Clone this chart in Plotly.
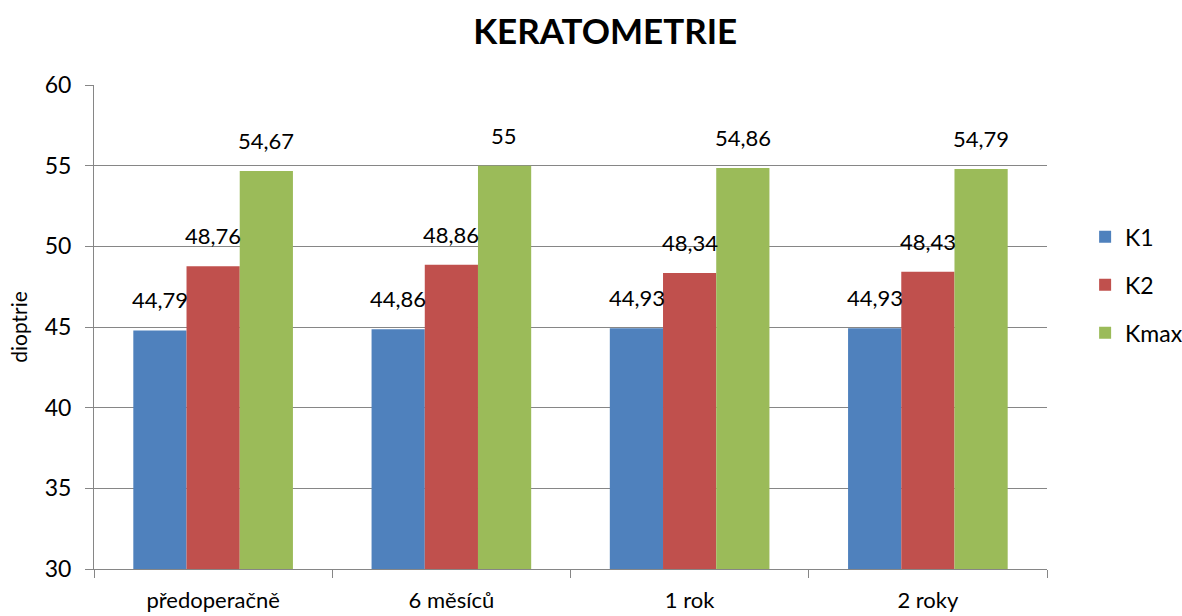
import plotly.graph_objects as go

categories = ["předoperačně", "6 měsíců", "1 rok", "2 roky"]
series_names = ["K1", "K2", "Kmax"]
k1 = [44.79, 44.86, 44.93, 44.93]
k2 = [48.76, 48.86, 48.34, 48.43]
kmax = [54.67, 55, 54.86, 54.79]
colors = ["#4F81BD", "#C0504D", "#9BBB59"]
y_ticks = [30, 35, 40, 45, 50, 55, 60]

FONT = "Lato"
all_values = [k1, k2, kmax]


def fmt(v):
    s = ("%.2f" % v).rstrip("0").rstrip(".")
    return s.replace(".", ",")


fig = go.Figure()
for name, vals, col in zip(series_names, all_values, colors):
    fig.add_trace(go.Bar(
        name=name, x=categories, y=vals, marker_color=col,
        marker_line_width=0, legendgroup=name,
    ))

# value labels above each bar, offset per series within the group
bar_offsets = [-53, 0, 53]
for vals, dx in zip(all_values, bar_offsets):
    for cat, v in zip(categories, vals):
        fig.add_annotation(
            x=cat, y=v, text=fmt(v), showarrow=False,
            xshift=dx, yshift=15, yanchor="bottom",
            font=dict(family=FONT, size=22, color="#000000"),
        )

fig.update_layout(
    width=1182, height=616,
    margin=dict(l=94, r=135, t=85, b=47, autoexpand=False),
    paper_bgcolor="white", plot_bgcolor="white",
    barmode="group", bargap=0.33, bargroupgap=0,
    title=dict(text="<b>KERATOMETRIE</b>", x=0.512, xanchor="center",
               y=0.948, yanchor="middle", xref="container", yref="container",
               font=dict(family=FONT, size=35, color="#000000")),
    font=dict(family=FONT, color="#000000"),
    legend=dict(x=1.04, xanchor="left", y=0.587, yanchor="middle",
                font=dict(family=FONT, size=23), tracegroupgap=15,
                traceorder="grouped", itemwidth=30),
    showlegend=True,
)
fig.update_xaxes(
    showline=True, linecolor="#868686", linewidth=1,
    ticks="outside", tickson="boundaries", ticklen=8, tickcolor="#868686",
    tickfont=dict(family=FONT, size=22), showgrid=False,
    ticklabelstandoff=12,
)
fig.update_yaxes(
    range=[30, 60], tickvals=y_ticks, showline=True, linecolor="#868686",
    linewidth=1, ticks="outside", ticklen=8, tickcolor="#868686",
    showgrid=True, gridcolor="#868686", gridwidth=1,
    tickfont=dict(family=FONT, size=23), zeroline=False,
    ticklabelstandoff=9,
    title=dict(text="dioptrie", font=dict(family=FONT, size=21), standoff=11),
)

fig.write_html("out.html")
